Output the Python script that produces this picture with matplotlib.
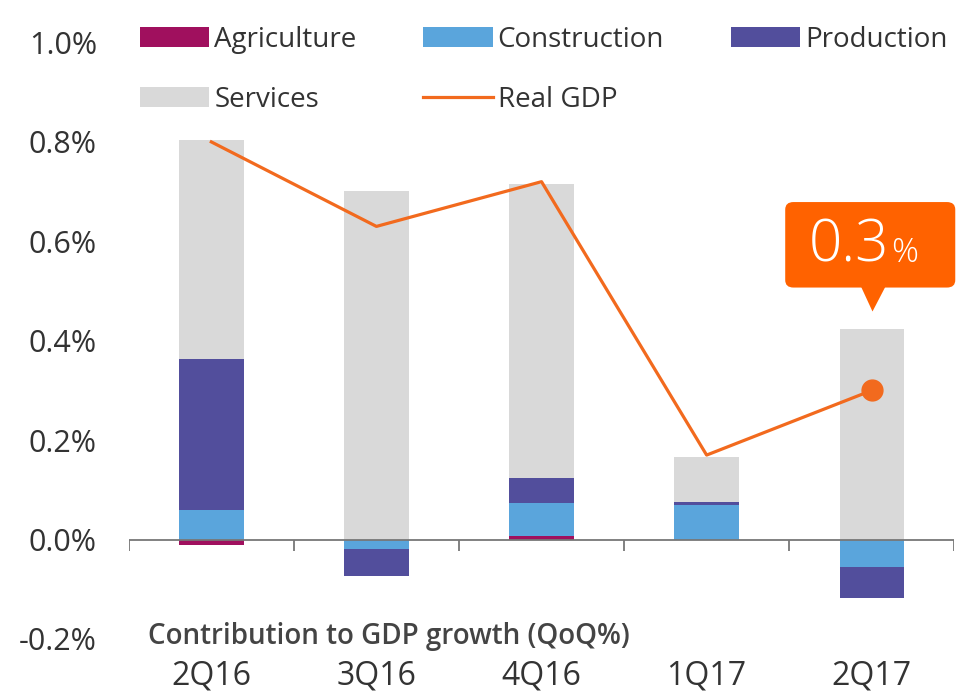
import matplotlib
matplotlib.use('Agg')
from matplotlib import pyplot as plt
from matplotlib.patches import FancyBboxPatch
import numpy as np

plt.rcParams['font.family'] = ['Open Sans', 'DejaVu Sans']

# data (percentage points)
quarters = ['2Q16', '3Q16', '4Q16', '1Q17', '2Q17']
agriculture = [-0.010, 0.000, 0.007, 0.000, 0.000]
construction = [0.059, -0.018, 0.066, 0.070, -0.056]
production = [0.305, -0.056, 0.050, 0.006, -0.061]
services = [0.440, 0.702, 0.593, 0.090, 0.423]
real_gdp = [0.80, 0.63, 0.72, 0.17, 0.30]
yticks = [-0.2, 0.0, 0.2, 0.4, 0.6, 0.8, 1.0]

c_agri = '#A0105E'
c_con = '#5AA5DC'
c_prod = '#524E9C'
c_serv = '#D9D9D9'
c_gdp = '#F26A1E'
c_box = '#FF6200'
txt = '#333333'

fig = plt.figure(figsize=(9.61, 6.92), dpi=100)
ax = fig.add_axes([0.134, 0.0766, 0.859, 0.862])

x = np.arange(len(quarters))
w = 0.39
pos = np.zeros(len(x))
neg = np.zeros(len(x))
handles = {}
for name, vals, col in [('Agriculture', agriculture, c_agri),
                        ('Construction', construction, c_con),
                        ('Production', production, c_prod),
                        ('Services', services, c_serv)]:
    vals = np.array(vals)
    bottoms = np.where(vals >= 0, pos, neg)
    b = ax.bar(x, vals, w, bottom=bottoms, color=col, label=name, zorder=2)
    handles[name] = b
    pos = pos + np.where(vals >= 0, vals, 0)
    neg = neg + np.where(vals < 0, vals, 0)

ln, = ax.plot(x, real_gdp, color=c_gdp, lw=2.3, zorder=4, label='Real GDP')
ax.plot(x[-1], real_gdp[-1], 'o', color=c_gdp, ms=15, zorder=5)
handles['Real GDP'] = ln

# zero line with category tick marks
ax.axhline(0, color='#777777', lw=1.3, zorder=3)
bounds = np.arange(len(x) + 1) - 0.5
ax.vlines(bounds, -0.022, 0, color='#777777', lw=1.3, zorder=3)

ax.set_xlim(-0.5, len(x) - 0.5)
ax.set_ylim(-0.2, 1.0)
ax.set_yticks(yticks)
ax.set_yticklabels(['%.1f%%' % v for v in yticks])
ax.set_xticks(x)
ax.set_xticklabels(quarters)
ax.tick_params(axis='both', length=0, labelcolor=txt)
ax.tick_params(axis='y', pad=23, labelsize=22)
ax.tick_params(axis='x', pad=15, labelsize=23)
for s in ax.spines.values():
    s.set_visible(False)

ax.text(0.023, 0.005, 'Contribution to GDP growth (QoQ%)', transform=ax.transAxes,
        fontsize=20, fontweight='semibold', color='#444444', va='center', ha='left')

# legend, reordered so it reads row by row
order = ['Agriculture', 'Services', 'Construction', 'Real GDP', 'Production']
ax.legend([handles[k] for k in order], order, ncol=3, frameon=False,
          loc='upper left', bbox_to_anchor=(0.0, 1.047), borderaxespad=0,
          fontsize=20, handlelength=2.5, handleheight=0.72, handletextpad=0.18,
          columnspacing=2.4, labelspacing=1.15, labelcolor=txt)

# callout above last point
xl, yl = x[-1], real_gdp[-1]
box = FancyBboxPatch((xl - 0.524, yl + 0.207), 1.03, 0.172,
                     boxstyle='round,pad=0,rounding_size=0.05', mutation_aspect=0.3,
                     fc=c_box, ec='none', zorder=6, clip_on=False)
ax.add_patch(box)
ax.plot(xl, yl + 0.185, marker='v', color=c_box, ms=18, mec='none', zorder=6)
ax.text(xl - 0.38, yl + 0.259, '0.3', color='white', fontsize=42, fontweight='light',
        ha='left', va='baseline', zorder=7)
ax.text(xl + 0.12, yl + 0.259, '%', color='white', fontsize=24, fontweight='light',
        ha='left', va='baseline', zorder=7)

fig.savefig('out.png', dpi=100)
